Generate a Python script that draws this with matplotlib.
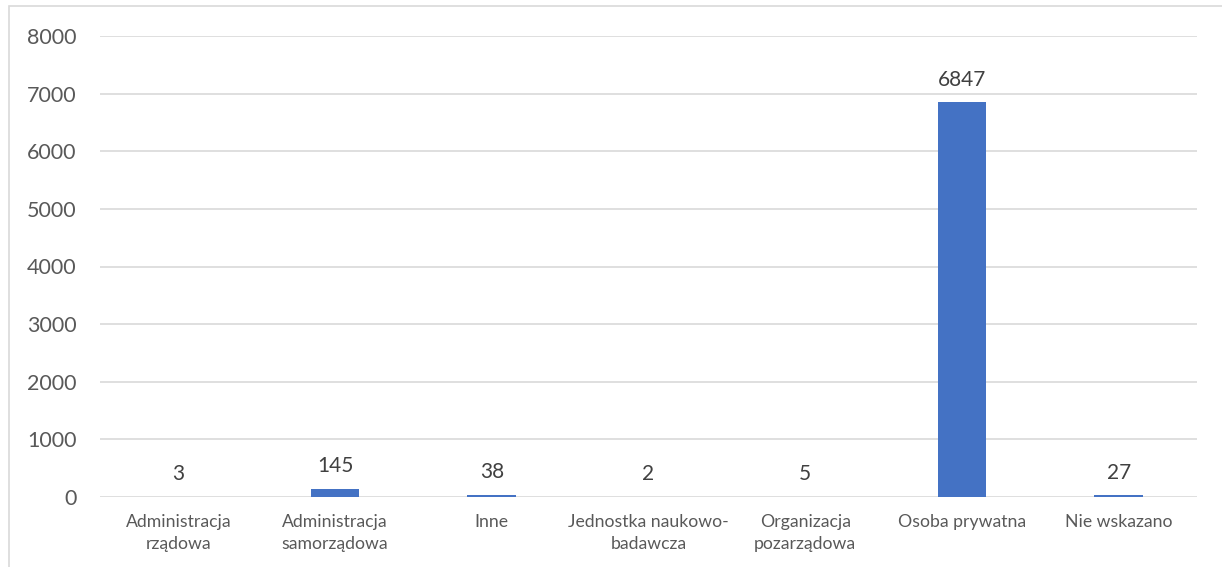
import matplotlib.pyplot as plt
from matplotlib.patches import Rectangle

categories = ["Administracja\nrządowa", "Administracja\nsamorządowa", "Inne",
              "Jednostka naukowo-\nbadawcza", "Organizacja\npozarządowa",
              "Osoba prywatna", "Nie wskazano"]
values = [3, 145, 38, 2, 5, 6847, 27]
yticks = [0, 1000, 2000, 3000, 4000, 5000, 6000, 7000, 8000]

plt.rcParams['font.family'] = ['Lato', 'DejaVu Sans']

fig = plt.figure(figsize=(12.22, 5.67), dpi=100)
ax = fig.add_axes([100/1222, 1-497/567, 1097/1222, 461/567])

x = list(range(len(values)))
ax.bar(x, values, width=0.31, color='#4472C4', zorder=3)
for xi, v in zip(x, values):
    ax.annotate(str(v), (xi, v), xytext=(0, 9), textcoords='offset points',
                ha='center', va='bottom', fontsize=15, color='#404040')

ax.set_xlim(-0.5, len(values) - 0.5)
ax.set_ylim(0, 8000)
ax.set_yticks(yticks)
ax.set_yticklabels([str(t) for t in yticks], fontsize=15.5, color='#595959')
ax.set_xticks(x)
ax.set_xticklabels(categories, fontsize=12.7, color='#595959', linespacing=1.5)
ax.tick_params(length=0)
ax.tick_params(axis='y', pad=17)
ax.tick_params(axis='x', pad=12)
ax.grid(axis='y', color='#D9D9D9', linewidth=1.2, zorder=0)
for s in ax.spines.values():
    s.set_visible(False)

# chart border (partly cut off at right/bottom)
fig.patches.append(Rectangle((9/1222, -0.1), 1.2, 1 - 6/567 + 0.1,
                             transform=fig.transFigure, fill=False,
                             edgecolor='#D9D9D9', linewidth=1.2))

fig.savefig('out.png', dpi=100)
